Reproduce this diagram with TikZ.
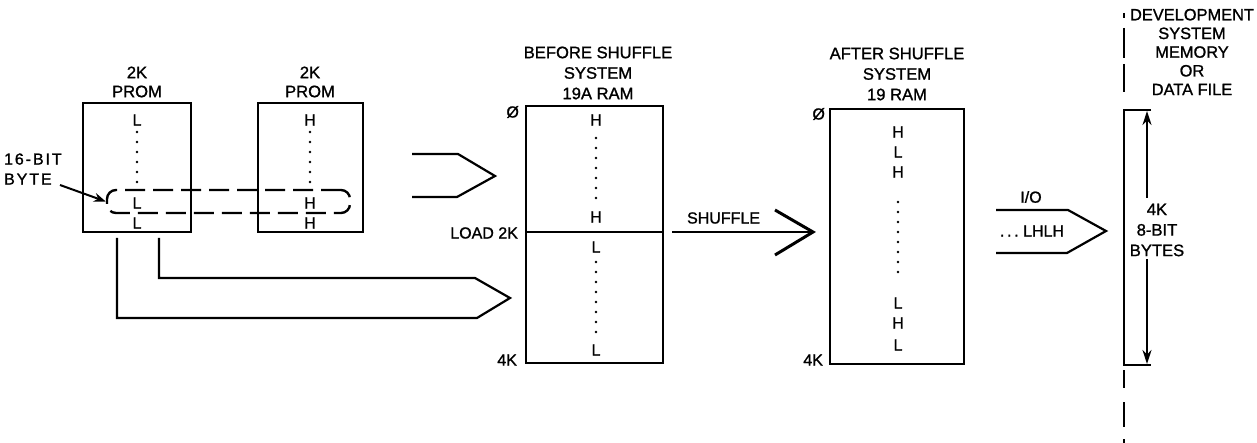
\documentclass[tikz,border=0pt]{standalone}
\usepackage{fontspec}
\setmainfont{Liberation Sans}[FakeBold=1.2]
\usetikzlibrary{arrows.meta}
\begin{document}
\begin{tikzpicture}[x=1pt,y=-1pt,line width=2.2pt,line join=miter,
  ttl/.style={font=\fontsize{16.6}{20.5}\selectfont,inner sep=0pt,align=center},
  lt/.style={font=\fontsize{16}{20}\selectfont,inner sep=0pt},
  box/.style={draw,line width=2.4pt,inner sep=0pt,outer sep=0pt,anchor=north west},
  dashbox/.style={draw,dash pattern=on 20pt off 8pt,rounded corners=9pt,line width=2.4pt},
  tip/.style={-{Stealth[length=14pt,width=9pt]}}]
\useasboundingbox (0,0) rectangle (1257,443);

% PROM 1
\node[ttl,font=\fontsize{16.6}{19}\selectfont] (t1) at (137,82) {2K\\PROM};
\node[box,minimum width=108,minimum height=129] (p1) at (83,103) {};
\node[lt] (p1a) at (137,120) {L};
\foreach \y in {132,142,...,182} \fill (137,\y) circle (1.4pt);
\node[lt] (p1b) at (137,203) {L};
\node[lt] (p1c) at (137,223) {L};

% PROM 2
\node[ttl,font=\fontsize{16.6}{19}\selectfont] (t2) at (310,82) {2K\\PROM};
\node[box,minimum width=105,minimum height=129] (p2) at (258,103) {};
\node[lt] (p2a) at (310,120) {H};
\foreach \y in {132,142,...,182} \fill (310,\y) circle (1.4pt);
\node[lt] (p2b) at (310,203) {H};
\node[lt] (p2c) at (310,223) {H};

% 16-bit byte
\node[dashbox,minimum width=243,minimum height=23,inner sep=0pt] (byte) at (228.5,201.5) {};
\node[ttl,align=left,anchor=west,font=\fontsize{16}{20}\selectfont\addfontfeature{LetterSpace=12}] (bl) at (3,169) {16-BIT\\BYTE};
\coordinate (bs) at (60,185);
\draw[line width=2pt,-{Stealth[length=12pt,width=9pt]}] (bs) -- (byte.west);

% upper arrow
\draw (412,154) -- (458,154) -- (495,176) -- (457,197) -- (412,197);

% lower arrow from PROM 1
\coordinate (la) at ([xshift=-20pt,yshift=-6pt]p1.south);
\coordinate (lb) at ([xshift=22pt,yshift=-6pt]p1.south);
\draw (lb) -- (lb |- 0,278) -- (475,278) -- (510,298) -- (477,318) -- (la |- 0,318) -- (la);

% RAM before
\node[ttl] (t3) at (598,73) {BEFORE SHUFFLE\\SYSTEM\\19A RAM};
\node[box,minimum width=137,minimum height=257] (r1) at (526,106) {};
\draw[line width=2pt] (r1.west |- 0,232) coordinate (r1m) -- (r1.east |- 0,232) coordinate (r1e);
\node[lt,anchor=east] (z1) at (520,112) {Ø};
\node[lt,anchor=east] (ld) at (519,233) {LOAD 2K};
\node[lt,anchor=east] (k1) at (518,360) {4K};
\node[lt] (r1a) at (596,120) {H};
\foreach \y in {138,148,...,198} \fill (596,\y) circle (1.4pt);
\node[lt] (r1b) at (596,217) {H};
\node[lt] (r1c) at (596,247) {L};
\foreach \y in {262,272,...,332} \fill (596,\y) circle (1.4pt);
\node[lt] (r1d) at (596,350) {L};

% SHUFFLE
\coordinate (sh) at (813,232);
\draw[line width=2pt] ([xshift=9pt]r1e) -- (sh);
\draw[line width=3pt] (775,210) -- (sh) -- (775,255);
\node[lt,anchor=west] (shl) at (686,218) {SHUFFLE};

% RAM after
\node[ttl] (t4) at (897,74) {AFTER SHUFFLE\\SYSTEM\\19 RAM};
\node[box,minimum width=134,minimum height=255] (r2) at (830,109) {};
\node[lt,anchor=east] (z2) at (826,114) {Ø};
\node[lt,anchor=east] (k2) at (824,360) {4K};
\node[lt] (r2a) at (898,132) {H};
\node[lt] (r2b) at (898,152) {L};
\node[lt] (r2c) at (898,172) {H};
\foreach \y in {202,212,...,272} \fill (898,\y) circle (1.4pt);
\node[lt] (r2d) at (898,303) {L};
\node[lt] (r2e) at (898,323) {H};
\node[lt] (r2f) at (898,345) {L};

% I/O arrow
\draw (996,210) -- (1068,210) -- (1106,231) -- (1067,253) -- (996,253);
\node[lt] (io) at (1031,197) {I/O};
\node[lt] (lh) at (1032,231) {.\,.\,.\ LHLH};

% development system memory
\node[ttl,font=\fontsize{16.4}{18.7}\selectfont] (t5) at (1192,52) {DEVELOPMENT\\SYSTEM\\MEMORY\\OR\\DATA FILE};
\coordinate (mt) at (1124,110);
\coordinate (mb) at (1124,365);
\draw[line width=2.4pt] (1151,110) -- (mt) -- (mb) -- (1151,365);
\draw[line width=2pt,dash pattern=on 5pt off 10pt on 30pt off 6pt on 28pt off 30pt] (1124,13) -- ([yshift=4pt]mt);
\draw[line width=2pt,dash pattern=on 18pt off 14pt on 25pt off 12pt on 23pt off 10pt on 12pt off 10pt] ([yshift=-5pt]mb) -- (1124,443);
\node[ttl] (mem) at (1157,230) {4K\\8-BIT\\BYTES};
\draw[line width=2pt,tip] (1147,198) -- (1147,111);
\draw[line width=2pt,tip] (1147,259) -- (1147,364);
\end{tikzpicture}
\end{document}
